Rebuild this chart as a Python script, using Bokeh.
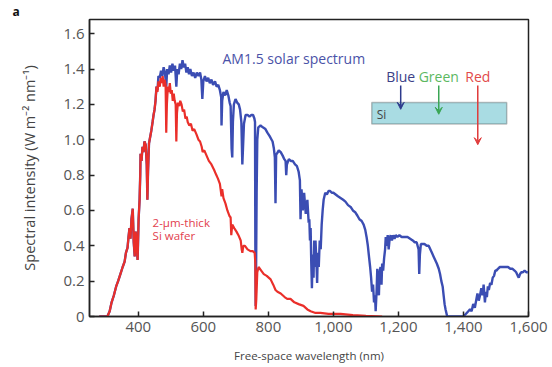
from bokeh.plotting import figure
from bokeh.models import Range1d, FixedTicker, Label, BoxAnnotation, Arrow, VeeHead
from bokeh.embed import file_html
from bokeh.resources import INLINE

# AM1.5 solar spectrum (wavelength nm, W m^-2 nm^-1)
am_nm = [280, 300, 305, 312, 318, 325, 332, 338, 345, 352, 358, 362, 367, 370, 373, 376, 379, 383, 386, 389,
         392, 395, 398, 401, 404, 406, 407, 410, 413, 416, 419, 423, 426, 428, 430, 433, 436, 440, 444, 447,
         450, 453, 456, 459, 462, 466, 470, 474, 478, 482, 486, 489, 493, 497, 501, 505, 509, 513, 517, 520,
         524, 528, 532, 536, 540, 544, 548, 552, 556, 560, 565, 570, 575, 580, 585, 590, 594, 597, 600, 605,
         610, 615, 620, 625, 630, 636, 641, 646, 651, 655, 656, 658, 662, 667, 672, 677, 681, 684, 687, 689,
         691, 694, 699, 704, 709, 713, 717, 720, 722, 725, 730, 736, 742, 748, 753, 757, 759, 760, 761, 762,
         764, 766, 769, 776, 783, 791, 797, 804, 810, 813, 817, 820, 822, 824, 826, 832, 838, 844, 849, 853,
         855, 857, 863, 869, 875, 882, 888, 893, 897, 899, 902, 906, 910, 915, 920, 924, 926, 928, 930, 932,
         934, 936, 939, 941, 943, 945, 948, 950, 952, 955, 958, 961, 964, 967, 970, 975, 980, 985, 990, 995,
         1000, 1007, 1014, 1022, 1030, 1037, 1045, 1053, 1060, 1067, 1074, 1080, 1087, 1093, 1098, 1102, 1106, 1110, 1113, 1116,
         1119, 1122, 1125, 1128, 1130, 1133, 1135, 1137, 1140, 1142, 1145, 1148, 1150, 1153, 1156, 1159, 1161, 1164, 1167, 1170,
         1173, 1176, 1180, 1184, 1188, 1192, 1197, 1203, 1210, 1218, 1228, 1236, 1244, 1250, 1256, 1262, 1264, 1266, 1269, 1274,
         1280, 1287, 1293, 1298, 1303, 1308, 1313, 1318, 1324, 1328, 1332, 1336, 1339, 1342, 1345, 1350, 1375, 1400, 1405, 1410,
         1415, 1420, 1425, 1430, 1435, 1440, 1443, 1447, 1451, 1455, 1459, 1462, 1466, 1469, 1472, 1475, 1478, 1482, 1486, 1490,
         1494, 1498, 1502, 1506, 1512, 1518, 1524, 1530, 1537, 1544, 1551, 1557, 1562, 1567, 1570, 1574, 1578, 1583, 1588, 1594,
         1598]
am_val = [0.0, 0.0, 0.0, 0.03, 0.08, 0.12, 0.17, 0.20, 0.24, 0.28, 0.31, 0.36, 0.39, 0.45, 0.50, 0.44, 0.55, 0.61, 0.42, 0.34,
          0.48, 0.40, 0.32, 0.55, 0.66, 0.80, 0.92, 0.88, 0.96, 0.93, 0.99, 0.97, 0.86, 0.66, 0.82, 0.98, 1.01, 1.05, 1.10, 1.14,
          1.17, 1.22, 1.30, 1.28, 1.36, 1.35, 1.39, 1.36, 1.41, 1.38, 1.30, 1.40, 1.37, 1.42, 1.38, 1.43, 1.39, 1.42, 1.30, 1.40,
          1.37, 1.43, 1.40, 1.45, 1.41, 1.43, 1.38, 1.41, 1.37, 1.40, 1.36, 1.38, 1.35, 1.38, 1.36, 1.38, 1.34, 1.23, 1.33, 1.36,
          1.33, 1.35, 1.32, 1.34, 1.31, 1.33, 1.30, 1.31, 1.28, 1.24, 1.08, 1.22, 1.27, 1.25, 1.28, 1.25, 1.21, 1.19, 0.95, 0.90,
          1.10, 1.20, 1.23, 1.21, 1.20, 1.17, 1.10, 0.86, 0.95, 1.09, 1.14, 1.14, 1.13, 1.14, 1.14, 1.12, 1.10, 0.40, 0.06, 0.20,
          0.70, 1.00, 1.07, 1.08, 1.07, 1.06, 1.04, 1.02, 1.00, 0.99, 0.95, 0.90, 0.64, 0.92, 0.92, 0.94, 0.93, 0.91, 0.89, 0.88,
          0.80, 0.86, 0.89, 0.88, 0.88, 0.86, 0.85, 0.82, 0.77, 0.55, 0.72, 0.60, 0.70, 0.58, 0.66, 0.53, 0.55, 0.43, 0.50, 0.30,
          0.16, 0.35, 0.22, 0.43, 0.28, 0.43, 0.30, 0.19, 0.36, 0.28, 0.43, 0.38, 0.52, 0.60, 0.66, 0.70, 0.69, 0.71, 0.71, 0.70,
          0.70, 0.69, 0.68, 0.67, 0.66, 0.65, 0.63, 0.62, 0.60, 0.59, 0.57, 0.55, 0.54, 0.52, 0.49, 0.45, 0.40, 0.33, 0.28, 0.22,
          0.14, 0.18, 0.08, 0.12, 0.03, 0.15, 0.27, 0.16, 0.12, 0.25, 0.28, 0.18, 0.30, 0.26, 0.33, 0.38, 0.45, 0.40, 0.46, 0.38,
          0.44, 0.46, 0.43, 0.46, 0.44, 0.46, 0.45, 0.46, 0.45, 0.45, 0.45, 0.44, 0.43, 0.42, 0.42, 0.38, 0.24, 0.35, 0.41, 0.41,
          0.41, 0.40, 0.40, 0.38, 0.36, 0.34, 0.32, 0.30, 0.27, 0.24, 0.20, 0.17, 0.12, 0.07, 0.04, 0.0, 0.0, 0.0, 0.01, 0.02,
          0.03, 0.04, 0.03, 0.07, 0.05, 0.10, 0.13, 0.09, 0.12, 0.16, 0.12, 0.18, 0.08, 0.14, 0.11, 0.17, 0.15, 0.19, 0.18, 0.22,
          0.23, 0.26, 0.26, 0.27, 0.28, 0.28, 0.28, 0.28, 0.28, 0.27, 0.27, 0.26, 0.25, 0.23, 0.22, 0.24, 0.25, 0.25, 0.26, 0.25,
          0.25]

# Spectrum absorbed in a 2-um-thick Si wafer
si_nm = [280, 300, 305, 312, 318, 325, 332, 338, 345, 352, 358, 362, 367, 370, 373, 376, 379, 383, 386, 389,
         392, 395, 398, 401, 404, 406, 407, 410, 413, 416, 419, 423, 426, 428, 430, 433, 436, 440, 444, 447,
         450, 453, 456, 459, 462, 466, 469, 472, 475, 478, 481, 484, 486, 488, 491, 494, 497, 500, 503, 506,
         509, 512, 515, 517, 519, 522, 526, 529, 533, 537, 541, 545, 549, 552, 557, 562, 567, 572, 579, 585,
         590, 595, 598, 603, 610, 617, 625, 633, 640, 645, 651, 656, 658, 662, 668, 674, 680, 684, 686, 689,
         695, 702, 708, 715, 718, 720, 723, 728, 736, 745, 752, 758, 760, 761, 763, 766, 770, 778, 786, 795,
         807, 815, 822, 828, 838, 850, 858, 868, 880, 893, 908, 920, 930, 945, 960, 985, 1022, 1060, 1100, 1150]
si_val = [0.0, 0.0, 0.0, 0.03, 0.08, 0.12, 0.17, 0.20, 0.24, 0.28, 0.31, 0.36, 0.39, 0.45, 0.50, 0.44, 0.55, 0.61, 0.42, 0.34,
          0.48, 0.40, 0.32, 0.55, 0.66, 0.80, 0.92, 0.88, 0.96, 0.93, 0.99, 0.97, 0.86, 0.66, 0.82, 0.98, 1.01, 1.05, 1.10, 1.14,
          1.17, 1.22, 1.30, 1.27, 1.33, 1.30, 1.35, 1.32, 1.36, 1.30, 1.34, 1.31, 1.04, 1.20, 1.30, 1.27, 1.32, 1.26, 1.28, 1.22,
          1.26, 1.22, 1.20, 0.99, 1.15, 1.21, 1.19, 1.22, 1.20, 1.16, 1.17, 1.12, 1.13, 1.10, 1.08, 1.09, 1.05, 1.06, 1.03, 1.00,
          0.99, 0.96, 0.93, 0.94, 0.91, 0.88, 0.86, 0.83, 0.80, 0.78, 0.75, 0.68, 0.72, 0.67, 0.64, 0.60, 0.57, 0.56, 0.46, 0.52,
          0.50, 0.48, 0.46, 0.43, 0.38, 0.36, 0.40, 0.40, 0.38, 0.37, 0.37, 0.36, 0.30, 0.04, 0.10, 0.25, 0.28, 0.26, 0.24, 0.23,
          0.21, 0.18, 0.15, 0.14, 0.13, 0.11, 0.10, 0.10, 0.08, 0.07, 0.06, 0.04, 0.03, 0.02, 0.02, 0.015, 0.015, 0.008, 0.003, 0.0]

x_ticks = [400, 600, 800, 1000, 1200, 1400, 1600]
x_tick_labels = ["400", "600", "800", "1,000", "1,200", "1,400", "1,600"]
y_ticks = [0, 0.2, 0.4, 0.6, 0.8, 1.0, 1.2, 1.4, 1.6]
y_tick_labels = ["0", "0.2", "0.4", "0.6", "0.8", "1.0", "1.2", "1.4", "1.6"]

FONT = "Open Sans"
BLUE = "#3b4db3"
RED = "#ea2f2a"

W, H = 548, 365
p = figure(width=W, height=H, output_backend="svg", toolbar_location=None,
           x_range=Range1d(250, 1600), y_range=Range1d(0, 1.68),
           min_border_left=89, min_border_right=20, min_border_top=0, min_border_bottom=47,
           title="a")
p.title.align = "left"
p.title.offset = -77
p.title.standoff = 0
p.title.text_font = FONT
p.title.text_font_style = "bold"
p.title.text_font_size = "12px"
p.title.text_color = "#111111"

p.grid.visible = False
p.outline_line_color = "#222222"
p.outline_line_width = 1.5
p.background_fill_color = "white"
p.border_fill_color = "white"

for ax in (p.xaxis[0], p.yaxis[0]):
    ax.axis_line_color = "#222222"
    ax.axis_line_width = 1.5
    ax.major_tick_line_color = "#222222"
    ax.major_tick_line_width = 1.5
    ax.major_tick_in = 5
    ax.major_tick_out = 0
    ax.minor_tick_line_color = None
    ax.major_label_text_font = FONT
    ax.major_label_text_font_size = "15px"
    ax.major_label_text_color = "#555555"
    ax.major_label_standoff = 5
    ax.axis_label_text_font = FONT
    ax.axis_label_text_font_style = "normal"
    ax.axis_label_text_color = "#444444"

p.xaxis.ticker = FixedTicker(ticks=x_ticks)
p.xaxis.major_label_overrides = {t: l for t, l in zip(x_ticks, x_tick_labels)}
p.yaxis.ticker = FixedTicker(ticks=y_ticks)
p.yaxis.major_label_overrides = {t: l for t, l in zip(y_ticks, y_tick_labels)}

p.yaxis.axis_label = "Spectral intensity (W m\u207b\u00b2 nm\u207b\u00b9)"
p.yaxis.axis_label_text_font_size = "14.5px"
p.yaxis.axis_label_standoff = 21

p.xaxis.axis_label = "Free-space wavelength (nm)"
p.xaxis.axis_label_text_font_size = "11.5px"
p.xaxis.axis_label_standoff = 13

p.line(am_nm, am_val, line_color=BLUE, line_width=2.4)
p.line(si_nm, si_val, line_color=RED, line_width=2.2)

p.add_layout(Label(x=659, y=1.46, text="AM1.5 solar spectrum", text_font=FONT,
                   text_font_size="14px", text_color="#4a52a8", text_baseline="middle"))
p.add_layout(Label(x=444, y=0.533, text="2-\u03bcm-thick", text_font=FONT,
                   text_font_size="11.5px", text_color="#e2404e", text_baseline="middle"))
p.add_layout(Label(x=444, y=0.461, text="Si wafer", text_font=FONT,
                   text_font_size="11.5px", text_color="#e2404e", text_baseline="middle"))

# Si slab inset
p.add_layout(BoxAnnotation(left=1118, right=1533, bottom=1.089, top=1.211,
                           fill_color="#a9dce3", fill_alpha=1.0, line_color="#333333", line_width=1.5))
p.add_layout(Label(x=1133, y=1.145, text="Si", text_font=FONT, text_font_size="12px",
                   text_color="#444444", text_baseline="middle"))
p.add_layout(Label(x=1207, y=1.36, text="Blue", text_font=FONT, text_font_size="14px",
                   text_color="#3c3f88", text_baseline="middle", text_align="center"))
p.add_layout(Label(x=1324, y=1.36, text="Green", text_font=FONT, text_font_size="14px",
                   text_color="#5cb85f", text_baseline="middle", text_align="center"))
p.add_layout(Label(x=1444, y=1.36, text="Red", text_font=FONT, text_font_size="14px",
                   text_color="#e24a4a", text_baseline="middle", text_align="center"))
p.add_layout(Arrow(x_start=1207, y_start=1.306, x_end=1207, y_end=1.172, line_color="#2d3a8c", line_width=1.5,
                   end=VeeHead(size=7, line_color="#2d3a8c", fill_color="#2d3a8c")))
p.add_layout(Arrow(x_start=1324, y_start=1.306, x_end=1324, y_end=1.144, line_color="#3aa655", line_width=1.5,
                   end=VeeHead(size=7, line_color="#3aa655", fill_color="#3aa655")))
p.add_layout(Arrow(x_start=1444, y_start=1.306, x_end=1444, y_end=0.972, line_color="#e03a3a", line_width=1.5,
                   end=VeeHead(size=7, line_color="#e03a3a", fill_color="#e03a3a")))

open("out.html", "w").write(file_html(p, INLINE))
